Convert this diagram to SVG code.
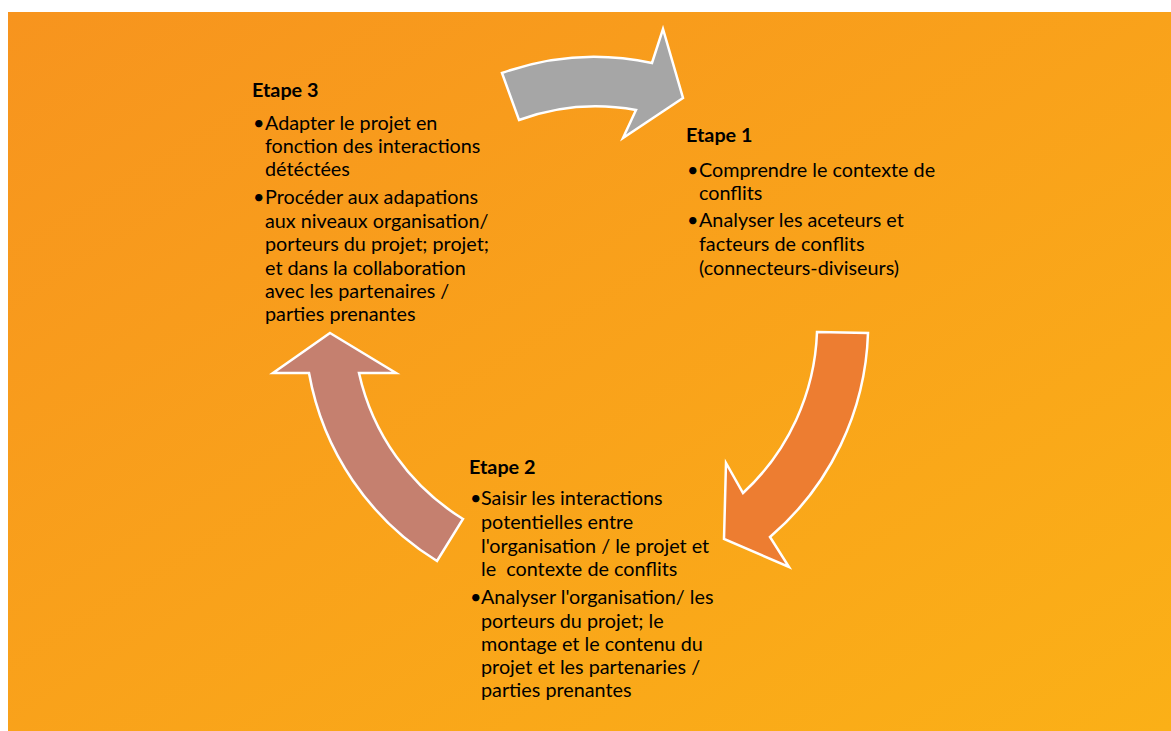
<svg xmlns="http://www.w3.org/2000/svg" width="1171" height="731" viewBox="0 0 1171 731">
<defs>
<linearGradient id="bg" x1="0" y1="0" x2="1" y2="1">
<stop offset="0" stop-color="#F7941E"/>
<stop offset="1" stop-color="#FBB017"/>
</linearGradient>
<style>
.t{font-family:Lato,"Liberation Sans",sans-serif;font-size:19.8px;fill:#000}
.h{font-family:Lato,"Liberation Sans",sans-serif;font-size:19.8px;font-weight:bold;fill:#000}
.arr{stroke:#fff;stroke-width:2.5;stroke-linejoin:miter}
</style>
</defs>
<rect x="0" y="0" width="1171" height="731" fill="#fff"/>
<rect x="8" y="12" width="1163" height="719" fill="url(#bg)"/>
<g id="connectors">
<path id="arrow-gray" class="arr" fill="#A6A6A6" d="M502,73 A272,272 0 0 1 652,63 L663,29 L683,98 L623,138 L636,110 A224,224 0 0 0 519,120 Z"/>
<path id="arrow-orange" class="arr" fill="#ED7D31" d="M817,332 L868,333 A280,280 0 0 1 770,537 L789,567 L724,539 L726,463 L743,493 A230,230 0 0 0 817,332 Z"/>
<path id="arrow-brown" class="arr" fill="#C5806F" d="M330,333 L396,373 L359,373 A230,230 0 0 0 463,519 L437,561 A278,278 0 0 1 309,373 L273,373 Z"/>
</g>
<g id="etape3">
<text class="h" x="252" y="97">Etape 3</text>
<text class="t" x="253" y="130">•</text>
<text class="t" x="265" y="130">Adapter le projet en</text>
<text class="t" x="265" y="153">fonction des interactions</text>
<text class="t" x="265" y="176">détéctées</text>
<text class="t" x="253" y="204">•</text>
<text class="t" x="265" y="204">Procéder aux adapations</text>
<text class="t" x="265" y="228">aux niveaux organisation/</text>
<text class="t" x="265" y="251">porteurs du projet; projet;</text>
<text class="t" x="265" y="275">et dans la collaboration</text>
<text class="t" x="265" y="298">avec les partenaires /</text>
<text class="t" x="265" y="321">parties prenantes</text>
</g>
<g id="etape1">
<text class="h" x="686" y="142">Etape 1</text>
<text class="t" x="687" y="177">•</text>
<text class="t" x="699" y="177">Comprendre le contexte de</text>
<text class="t" x="699" y="200">conflits</text>
<text class="t" x="687" y="227">•</text>
<text class="t" x="699" y="227">Analyser les aceteurs et</text>
<text class="t" x="699" y="251">facteurs de conflits</text>
<text class="t" x="699" y="275">(connecteurs-diviseurs)</text>
</g>
<g id="etape2">
<text class="h" x="469" y="474">Etape 2</text>
<text class="t" x="470" y="505">•</text>
<text class="t" x="481" y="505">Saisir les interactions</text>
<text class="t" x="481" y="529">potentielles entre</text>
<text class="t" x="481" y="553">l'organisation / le projet et</text>
<text class="t" x="481" y="576" xml:space="preserve">le  contexte de conflits</text>
<text class="t" x="470" y="604">•</text>
<text class="t" x="481" y="604">Analyser l'organisation/ les</text>
<text class="t" x="481" y="628">porteurs du projet; le</text>
<text class="t" x="481" y="651">montage et le contenu du</text>
<text class="t" x="481" y="674">projet et les partenaries /</text>
<text class="t" x="481" y="697">parties prenantes</text>
</g>
</svg>
